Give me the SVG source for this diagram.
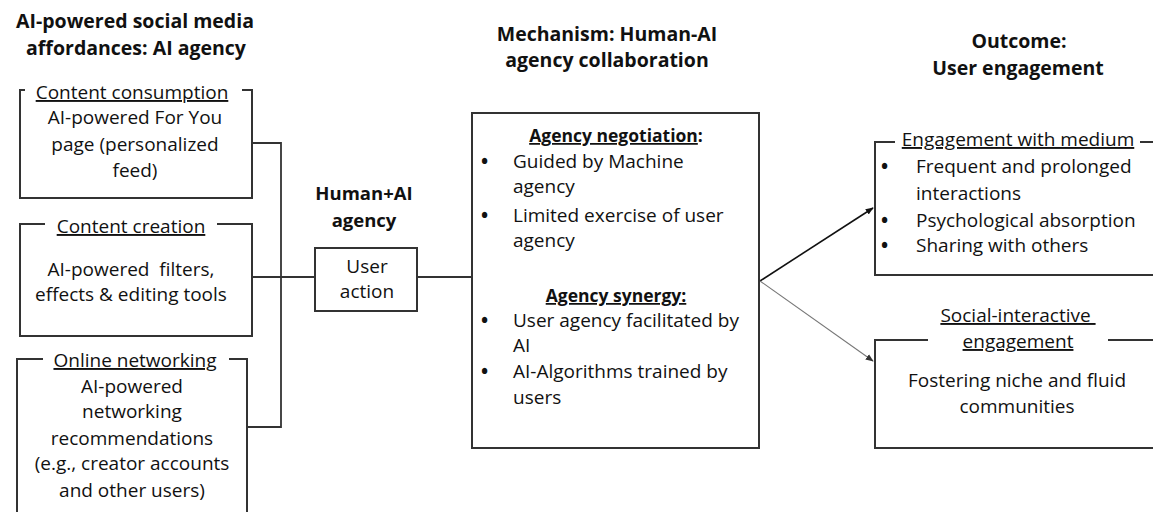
<svg xmlns="http://www.w3.org/2000/svg" width="1153" height="512" viewBox="0 0 1153 512">
<style>
text{font-family:"Open Sans","Liberation Sans",sans-serif;fill:#111;}
.t{font-size:19px;}
.b{font-weight:bold;}
.c{text-anchor:middle;}
.h{font-size:19.5px;font-weight:bold;text-anchor:middle;}
.sh{font-size:17.5px;font-weight:bold;text-anchor:middle;}
.u{text-decoration:underline;}
.box{fill:none;stroke:#333;stroke-width:2;}
.ln{fill:none;stroke:#333;stroke-width:1.8;}
</style>
<defs>
<marker id="ah" viewBox="0 0 10 10" refX="9" refY="5" markerWidth="8" markerHeight="8" markerUnits="userSpaceOnUse" orient="auto">
<path d="M0,1 L10,5 L0,9 z" fill="#111"/>
</marker>
<marker id="ah2" viewBox="0 0 10 10" refX="9" refY="5" markerWidth="8" markerHeight="8" markerUnits="userSpaceOnUse" orient="auto">
<path d="M0,1 L10,5 L0,9 z" fill="#333"/>
</marker>
</defs>
<rect width="1153" height="512" fill="#fff"/>

<g id="headers">
<text class="h" x="135" y="28">AI-powered social media</text>
<text class="h" x="136" y="55">affordances: AI agency</text>
<text class="h" x="607" y="41">Mechanism: Human-AI</text>
<text class="h" x="607" y="67">agency collaboration</text>
<text class="h" x="1019" y="48">Outcome:</text>
<text class="h" x="1018" y="75">User engagement</text>
</g>

<g id="connectors">
<polyline class="ln" points="252,143 281,143 281,427 247,427"/>
<line class="ln" x1="252" y1="277" x2="315" y2="277"/>
<line class="ln" x1="417" y1="277" x2="472" y2="277"/>
<line x1="760" y1="281" x2="873" y2="208" stroke="#111" stroke-width="1.6" marker-end="url(#ah)"/>
<line x1="760" y1="281" x2="873" y2="361" stroke="#777" stroke-width="1.1" marker-end="url(#ah2)"/>
</g>

<g id="content-consumption">
<path class="box" d="M25,90 H20 V198 H252 V90 H242"/>
<text class="t c u" x="132" y="99">Content consumption</text>
<text class="t c" x="135" y="124">AI-powered For You</text>
<text class="t c" x="135" y="151">page (personalized</text>
<text class="t c" x="135" y="177">feed)</text>
</g>

<g id="content-creation">
<path class="box" d="M45,224 H20 V336 H252 V224 H217"/>
<text class="t c u" x="131" y="233">Content creation</text>
<text class="t c" x="131" y="276" xml:space="preserve">AI-powered  filters,</text>
<text class="t c" x="131" y="301">effects &amp; editing tools</text>
</g>

<g id="online-networking">
<path class="box" d="M43,359 H17 V520 M247,520 V359 H229"/>
<text class="t c u" x="135" y="367">Online networking</text>
<text class="t c" x="132" y="393">AI-powered</text>
<text class="t c" x="132" y="418">networking</text>
<text class="t c" x="132" y="445">recommendations</text>
<text class="t c" x="132" y="470">(e.g., creator accounts</text>
<text class="t c" x="132" y="497">and other users)</text>
</g>

<g id="human-ai-agency">
<text class="c" x="364" y="200" style="font-size:18.5px;font-weight:bold">Human+AI</text>
<text class="c" x="364" y="227" style="font-size:18.5px;font-weight:bold">agency</text>
</g>

<g id="user-action">
<rect class="box" x="315" y="248" width="102" height="63"/>
<text class="t c" x="367" y="273">User</text>
<text class="t c" x="367" y="298">action</text>
</g>

<g id="mechanism">
<rect class="box" x="472" y="113" width="287" height="335"/>
<text class="sh" x="616" y="142"><tspan class="u">Agency negotiation</tspan>:</text>
<text class="t" y="168"><tspan class="b" x="481">•</tspan><tspan x="513">Guided by Machine</tspan></text>
<text class="t" x="513" y="193">agency</text>
<text class="t" y="222"><tspan class="b" x="481">•</tspan><tspan x="513">Limited exercise of user</tspan></text>
<text class="t" x="513" y="247">agency</text>
<text class="sh u" x="616" y="302">Agency synergy:</text>
<text class="t" y="327"><tspan class="b" x="481">•</tspan><tspan x="513">User agency facilitated by</tspan></text>
<text class="t" x="513" y="352">AI</text>
<text class="t" y="378"><tspan class="b" x="481">•</tspan><tspan x="513">AI-Algorithms trained by</tspan></text>
<text class="t" x="513" y="404">users</text>
</g>

<g id="engagement-medium">
<path class="box" d="M895,142 H875 V275 H1160 M1160,142 H1140"/>
<text class="t c u" x="1018" y="146">Engagement with medium</text>
<text class="t" y="173"><tspan class="b" x="881">•</tspan><tspan x="916">Frequent and prolonged</tspan></text>
<text class="t" x="916" y="200">interactions</text>
<text class="t" y="227"><tspan class="b" x="881">•</tspan><tspan x="916">Psychological absorption</tspan></text>
<text class="t" y="252"><tspan class="b" x="881">•</tspan><tspan x="916">Sharing with others</tspan></text>
</g>

<g id="social-interactive">
<path class="box" d="M928,340 H875 V448 H1160 M1160,340 H1108"/>
<text class="t c u" x="1018" y="322">Social-interactive&#160;</text>
<text class="t c u" x="1018" y="348">engagement</text>
<text class="t c" x="1017" y="387">Fostering niche and fluid</text>
<text class="t c" x="1017" y="413">communities</text>
</g>
</svg>
